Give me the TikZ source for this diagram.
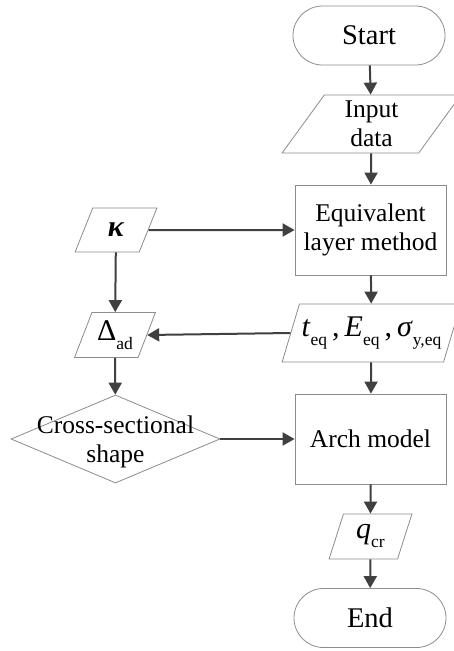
\documentclass[tikz,border=0pt]{standalone}
\usepackage{fontspec}
\setmainfont{Liberation Serif}
\usetikzlibrary{shapes.geometric,shapes.misc,arrows.meta}
\definecolor{boxgray}{HTML}{8C8C8C}
\definecolor{linegray}{HTML}{404040}
\newcommand{\sbs}[1]{\raisebox{-0.3em}{\fontsize{17.5}{18}\selectfont #1}}
\begin{document}
\begin{tikzpicture}[x=1pt,y=-1pt,
  box/.style={draw=boxgray, line width=0.8pt, fill=white, text=black,
    font=\fontsize{25.5}{29.5}\selectfont, align=center, inner sep=0pt},
  procbox/.style={box, rectangle, minimum width=151pt, minimum height=90pt},
  term/.style={box, rounded rectangle, minimum width=152pt, minimum height=59pt,
    font=\fontsize{28.5}{32}\selectfont},
  io/.style={box, trapezium, trapezium stretches=true},
  mathtext/.style={font=\fontsize{30}{32}\selectfont},
  flow/.style={draw=linegray, line width=2pt, -{Triangle[length=12pt,width=13pt]}}
]
\useasboundingbox (0,0) rectangle (454,651);
\clip (0,0) rectangle (454,651);

% right column
\node[term] (start) at (369,35.5) {Start};
\node[io, trapezium left angle=62.6, trapezium right angle=117.4,
  minimum width=179pt, minimum height=58pt] (input) at (371.5,124) {Input\\data};
\node[procbox] (eq) at (370.5,230) {Equivalent\\layer method};
\node[io, mathtext, trapezium left angle=62.6, trapezium right angle=117.4,
  minimum width=179pt, minimum height=58pt] (teq) at (371.5,333)
  {\textit{t}\sbs{eq}\,,\,\textit{E}\sbs{eq}\,,\,\textit{σ}\sbs{y,eq}};
\node[procbox] (arch) at (370.5,439) {Arch model};
\node[io, mathtext, trapezium left angle=72, trapezium right angle=108,
  minimum width=83pt, minimum height=45pt] (qcr) at (370.5,536.5)
  {\textit{q}\sbs{cr}};
\node[term] (end) at (370,618) {End};

% left column
\node[io, mathtext, trapezium left angle=65.6, trapezium right angle=114.4,
  minimum width=82pt, minimum height=44pt] (kappa) at (116,230)
  {\textbf{\textit{κ}}};
\node[io, mathtext, trapezium left angle=65, trapezium right angle=115,
  minimum width=81pt, minimum height=45pt] (delta) at (115,335)
  {Δ\sbs{ad}};
\node[box, diamond, minimum width=209pt, minimum height=88pt] (cs) at (115.5,439) {};
\node[font=\fontsize{25.5}{29.5}\selectfont, align=center, inner sep=0pt] (cstext) at (115.5,442)
  {Cross-sectional\\shape};

% connectors
\draw[flow] (start) -- (input);
\draw[flow] (input) -- (eq);
\draw[flow] (eq) -- (teq);
\draw[flow] (teq) -- (arch);
\draw[flow] (arch) -- (qcr);
\draw[flow] (qcr) -- (end);
\draw[flow] (kappa.east) -- (eq.west);
\draw[flow] (kappa) -- (delta);
\draw[flow] (teq.west) -- (delta.east);
\draw[flow] (delta) -- (cs);
\draw[flow] (cs.east) -- (arch.west);
\end{tikzpicture}
\end{document}
